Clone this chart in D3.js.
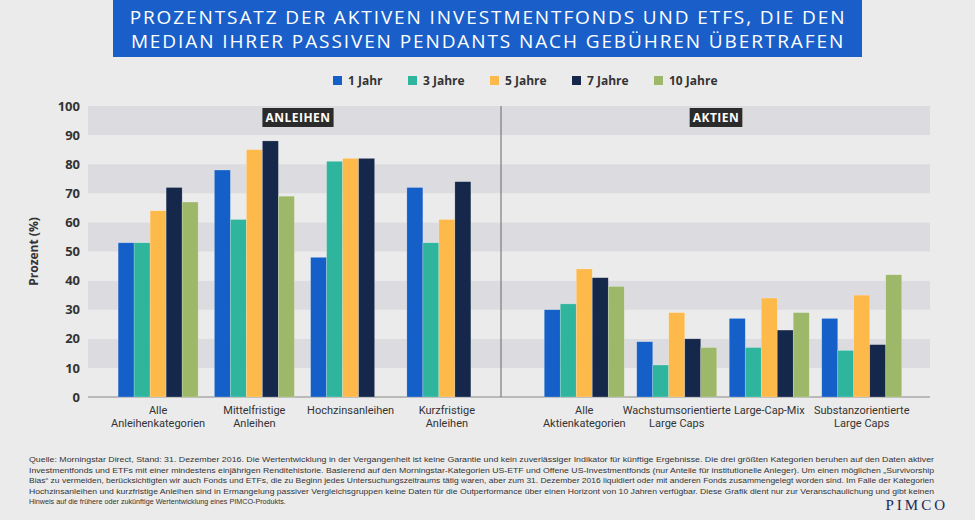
<!DOCTYPE html>
<html><head><meta charset="utf-8">
<script src="https://cdn.jsdelivr.net/npm/d3@7"></script>
<style>body{margin:0;background:#ebebeb;font-family:"Open Sans",sans-serif}</style>
</head><body><div id="chart"></div>
<script>
const series = ["1 Jahr", "3 Jahre", "5 Jahre", "7 Jahre", "10 Jahre"];
const colors = ["#1560c8", "#2fb59d", "#fdb94a", "#15284b", "#9cb868"];
const bondCats = ["Alle\nAnleihenkategorien", "Mittelfristige\nAnleihen", "Hochzinsanleihen", "Kurzfristige\nAnleihen"];
const bondVals = [[53,53,64,72,67],[78,61,85,88,69],[48,81,82,82,null],[72,53,61,74,null]];
const stockCats = ["Alle\nAktienkategorien", "Wachstumsorientierte\nLarge Caps", "Large-Cap-Mix", "Substanzorientierte\nLarge Caps"];
const stockVals = [[30,32,44,41,38],[19,11,29,20,17],[27,17,34,23,29],[27,16,35,18,42]];
const yTicks = d3.range(0, 101, 10);

const W = 975, H = 520, L = 88, R = 930, M = 501;
const narrow = "Liberation Sans Narrow, Roboto, sans-serif";
const svg = d3.select("#chart").append("svg").attr("width", W).attr("height", H);
svg.append("rect").attr("width", W).attr("height", H).attr("fill", "#ebebeb");

// title
svg.append("rect").attr("x", 113).attr("y", 0).attr("width", 749).attr("height", 57).attr("fill", "#1a5fc9");
["PROZENTSATZ DER AKTIVEN INVESTMENTFONDS UND ETFS, DIE DEN", "MEDIAN IHRER PASSIVEN PENDANTS NACH GEBÜHREN ÜBERTRAFEN"]
  .forEach((t, i) => svg.append("text").attr("x", 488).attr("y", 24 + i * 24).attr("text-anchor", "middle")
    .attr("fill", "#fff").attr("font-size", 19).attr("letter-spacing", 1.9).text(t));

const y = d3.scaleLinear().domain([0, 100]).range([397, 106]);

// bands
for (let v = 0; v < 100; v += 10) {
  svg.append("rect").attr("x", L).attr("width", R - L).attr("y", y(v + 10)).attr("height", y(v) - y(v + 10))
    .attr("fill", (v / 10) % 2 ? "#dcdce0" : "#ebebeb");
}
svg.append("line").attr("x1", L).attr("x2", R).attr("y1", y(0)).attr("y2", y(0)).attr("stroke", "#888");
svg.append("line").attr("x1", M).attr("x2", M).attr("y1", y(100)).attr("y2", y(0)).attr("stroke", "#666");

// y axis
const ya = svg.append("g").attr("transform", `translate(${L - 8},0)`)
  .call(d3.axisLeft(y).tickValues(yTicks).tickSize(0).tickPadding(0));
ya.select(".domain").remove();
ya.selectAll("text").attr("font-size", 13).attr("font-weight", "bold").attr("fill", "#333").attr("font-family", "Open Sans");
svg.append("text").attr("transform", `translate(38,${y(50)}) rotate(-90)`).attr("text-anchor", "middle")
  .attr("font-size", 12).attr("font-weight", "bold").attr("fill", "#333").text("Prozent (%)");

// legend
const lg = svg.append("g").attr("font-size", 12).attr("font-weight", "bold").attr("fill", "#333");
let lx = 333;
series.forEach((s, i) => {
  lg.append("rect").attr("x", lx).attr("y", 76).attr("width", 9).attr("height", 9).attr("fill", colors[i]);
  lg.append("text").attr("x", lx + 15).attr("y", 85).text(s);
  lx += 15 + s.length * 7 + 18;
});

function panel(cats, vals, range, label, labelX) {
  const x0 = d3.scaleBand().domain(cats).range(range);
  const x1 = d3.scaleBand().domain(series).range([-40, 40]);
  const g = svg.append("g");
  cats.forEach((c, ci) => {
    const cx = x0(c) + x0.bandwidth() / 2;
    vals[ci].forEach((v, si) => {
      if (v == null) return;
      g.append("rect").attr("x", cx + x1(series[si])).attr("width", x1.bandwidth())
        .attr("y", y(v)).attr("height", y(0) - y(v)).attr("fill", colors[si])
        .attr("stroke", "#fff").attr("stroke-opacity", 0.35).attr("stroke-width", 0.6);
    });
    c.split("\n").forEach((t, li) => g.append("text").attr("x", cx).attr("y", 414 + li * 13)
      .attr("text-anchor", "middle").attr("font-size", 11).attr("font-family", narrow).attr("fill", "#333").text(t));
  });
  const t = g.append("text").attr("x", labelX).attr("y", 122).attr("text-anchor", "middle")
    .attr("font-size", 12).attr("font-weight", "bold").attr("fill", "#fff").attr("letter-spacing", 0.5).text(label);
  const bb = t.node().getBBox();
  g.insert("rect", "text").attr("x", bb.x - 3).attr("y", bb.y - 1).attr("width", bb.width + 6).attr("height", bb.height + 2).attr("fill", "#2b2b2b");
  t.raise();
}
panel(bondCats, bondVals, [110, 495], "ANLEIHEN", 298);
panel(stockCats, stockVals, [538, 908], "AKTIEN", 716);

// footnote
const foot = ["Quelle: Morningstar Direct, Stand: 31. Dezember 2016. Die Wertentwicklung in der Vergangenheit ist keine Garantie und kein zuverlässiger Indikator für künftige Ergebnisse. Die drei größten Kategorien beruhen auf den Daten aktiver",
"Investmentfonds und ETFs mit einer mindestens einjährigen Renditehistorie. Basierend auf den Morningstar-Kategorien US-ETF und Offene US-Investmentfonds (nur Anteile für institutionelle Anleger). Um einen möglichen „Survivorship",
"Bias“ zu vermeiden, berücksichtigten wir auch Fonds und ETFs, die zu Beginn jedes Untersuchungszeitraums tätig waren, aber zum 31. Dezember 2016 liquidiert oder mit anderen Fonds zusammengelegt worden sind. Im Falle der Kategorien",
"Hochzinsanleihen und kurzfristige Anleihen sind in Ermangelung passiver Vergleichsgruppen keine Daten für die Outperformance über einen Horizont von 10 Jahren verfügbar. Diese Grafik dient nur zur Veranschaulichung und gibt keinen",
"Hinweis auf die frühere oder zukünftige Wertentwicklung eines PIMCO-Produkts."];
foot.forEach((t, i) => svg.append("text").attr("x", 29).attr("y", 462 + i * 10.5).attr("font-size", 7.2)
  .attr("font-family", "Liberation Sans Narrow, Liberation Sans, sans-serif").attr("fill", "#333")
  .attr("textLength", i < 4 ? 905 : null).attr("lengthAdjust", "spacingAndGlyphs").text(t));
svg.append("text").attr("x", 948).attr("y", 510).attr("text-anchor", "end").attr("font-family", "Liberation Serif, serif")
  .attr("font-size", 15).attr("letter-spacing", 3).attr("fill", "#1a2a55").text("PIMCO");
</script></body></html>
